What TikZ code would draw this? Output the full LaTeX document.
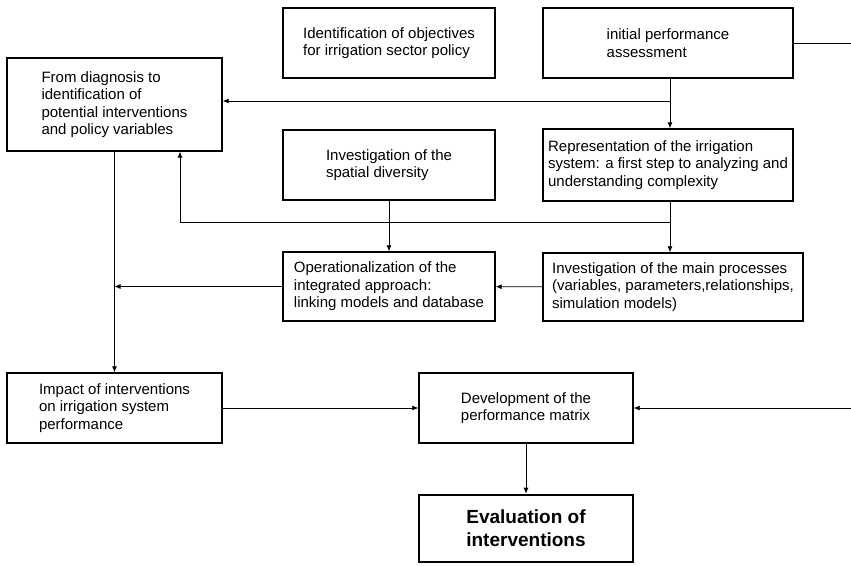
\documentclass[tikz,border=0pt]{standalone}
\usepackage{fontspec}
\setmainfont{Liberation Sans}
\usetikzlibrary{arrows.meta}

\tikzset{
  box/.style={rectangle,draw=black,line width=1.4pt,align=left,
    font=\fontsize{15}{17.5}\selectfont},
  bigbox/.style={rectangle,draw=black,line width=2.6pt,align=center,
    font=\fontsize{19}{23}\bfseries},
  arr/.style={line width=0.8pt,-{Latex[length=6pt,width=5pt]}},
  ln/.style={line width=0.8pt}
}

\begin{document}
\begin{tikzpicture}[x=1pt,y=-1pt]

  \useasboundingbox (0,0) rectangle (851,565);

  \node (objectives) at (389,43) [box,minimum width=212pt,minimum height=70pt]
    {Identification of objectives\\for irrigation sector policy};
  \node (initial) at (668,43) [box,minimum width=250pt,minimum height=70pt]
    {initial performance\\assessment};
  \node (diagnosis) at (114.5,104.5) [box,minimum width=215pt,minimum height=93pt]
    {From diagnosis to\\identification of\\potential interventions\\and policy variables};
  \node (spatial) at (389,165) [box,minimum width=212pt,minimum height=70pt]
    {Investigation of the\\spatial diversity};
  \node (represent) at (668,165) [box,minimum width=250pt,minimum height=72pt]
    {Representation of the irrigation\\system: a first step to analyzing and\\understanding complexity};
  \node (operational) at (389,286.5) [box,minimum width=212pt,minimum height=69pt]
    {Operationalization of the\\integrated approach:\\linking models and database};
  \node (processes) at (673,287) [box,minimum width=260pt,minimum height=68pt]
    {Investigation of the main processes\\(variables, parameters,relationships,\\simulation models)};
  \node (impact) at (114.5,408) [box,minimum width=215pt,minimum height=70pt]
    {Impact of interventions\\on irrigation system\\performance};
  \node (matrix) at (526,408) [box,minimum width=214pt,minimum height=70pt]
    {Development of the\\performance matrix};
  \node (evaluation) at (526,528.5) [bigbox,minimum width=214pt,minimum height=67pt]
    {Evaluation of\\interventions};

  \coordinate (j1) at (670,101);
  \coordinate (j2) at (670,222);
  \coordinate (j3) at (180,222);
  \coordinate (rout) at (851,43);
  \coordinate (rin) at (851,408);

  \draw [arr] (j1 |- initial.south) -- (j1 |- represent.north);
  \draw [arr] (j1) -- (j1 -| diagnosis.east);
  \draw [arr] (j2 |- represent.south) -- (j2 |- processes.north);
  \draw [ln] (j2) -- (j3);
  \draw [arr] (j3) -- (j3 |- diagnosis.south);
  \draw [arr] (spatial) -- (operational);
  \draw [arr] (processes) -- (operational);
  \draw [arr] (operational.west) -- (operational.west -| diagnosis.south);
  \draw [arr] (diagnosis) -- (impact);
  \draw [arr] (impact) -- (matrix);
  \draw [arr] (rin) -- (matrix);
  \draw [ln] (initial) -- (rout);
  \draw [arr] (matrix) -- (evaluation);

\end{tikzpicture}
\end{document}
